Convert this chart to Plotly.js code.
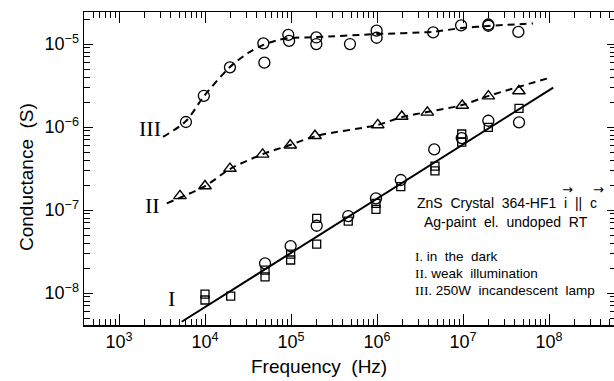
<!DOCTYPE html>
<html>
<head>
<meta charset="utf-8">
<script src="https://cdn.plot.ly/plotly-3.0.1.min.js"></script>
<style>
html,body{margin:0;padding:0;background:#fff;overflow:hidden;}
#chart{width:620px;height:381px;}
</style>
</head>
<body>
<div id="chart"></div>
<script>
// Series III: 250W incandescent lamp (circles)
const freqIII = [6.0e3, 9.7e3, 1.95e4, 4.77e4, 4.9e4, 9.3e4, 9.5e4, 1.97e5, 1.97e5, 4.85e5, 9.9e5, 9.9e5, 4.5e6, 9.5e6, 1.97e7, 1.97e7, 4.4e7];
const condIII = [1.15e-6, 2.38e-6, 5.24e-6, 1.02e-5, 5.96e-6, 1.29e-5, 1.09e-5, 1.2e-5, 1.0e-5, 1.0e-5, 1.45e-5, 1.19e-5, 1.38e-5, 1.68e-5, 1.72e-5, 1.66e-5, 1.40e-5];
const fitFreqIII = [3.25e3, 6.01e3, 9.73e3, 1.95e4, 3.16e4, 4.72e4, 7.06e4, 9.73e4, 1.95e5, 1.0e6, 4.48e6, 9.73e6, 1.95e7, 6.52e7];
const fitCondIII = [7.59e-7, 1.18e-6, 2.36e-6, 5.28e-6, 7.8e-6, 9.72e-6, 1.117e-5, 1.18e-5, 1.213e-5, 1.318e-5, 1.406e-5, 1.56e-5, 1.648e-5, 1.774e-5];

// Series II: weak illumination (triangles)
const freqII = [5.12e3, 1.0e4, 1.95e4, 4.68e4, 9.8e4, 1.9e5, 1.02e6, 1.94e6, 3.85e6, 9.8e6, 1.97e7, 4.47e7];
const condII = [1.48e-7, 1.95e-7, 3.16e-7, 4.68e-7, 6.03e-7, 7.85e-7, 1.06e-6, 1.34e-6, 1.50e-6, 1.82e-6, 2.36e-6, 2.72e-6];
const fitFreqII = [3.59e3, 1.0e4, 1.95e4, 4.72e4, 9.73e4, 1.95e5, 1.0e6, 1.95e6, 3.81e6, 9.73e6, 1.95e7, 1.03e8];
const fitCondII = [1.205e-7, 1.945e-7, 3.12e-7, 4.73e-7, 6.07e-7, 7.8e-7, 1.057e-6, 1.318e-6, 1.517e-6, 1.84e-6, 2.36e-6, 3.93e-6];

// Series I: in the dark (squares and circles)
const freqISq = [1.0e4, 1.0e4, 1.99e4, 4.99e4, 4.99e4, 9.9e4, 9.9e4, 1.99e5, 1.99e5, 4.63e5, 9.73e5, 9.73e5, 1.89e6, 4.72e6, 4.72e6, 9.66e6, 9.66e6, 1.97e7, 4.48e7];
const condISq = [9.73e-9, 8.24e-9, 9.2e-9, 1.89e-8, 1.57e-8, 2.95e-8, 2.50e-8, 7.94e-8, 3.89e-8, 7.36e-8, 1.2e-7, 1.02e-7, 1.91e-7, 3.39e-7, 2.97e-7, 8.24e-7, 6.59e-7, 9.9e-7, 1.68e-6];
const freqICi = [4.99e4, 9.9e4, 1.99e5, 4.63e5, 9.73e5, 1.89e6, 4.63e6, 9.66e6, 1.97e7, 4.48e7];
const condICi = [2.28e-8, 3.68e-8, 6.47e-8, 8.47e-8, 1.38e-7, 2.30e-7, 5.38e-7, 7.36e-7, 1.19e-6, 1.14e-6];
const fitFreqI = [5.36e3, 1.12e8];
const fitCondI = [4.51e-9, 2.98e-6];

// Axis ticks
const xTickVals = [1e3, 1e4, 1e5, 1e6, 1e7, 1e8];
const xTickText = ["10<sup>3</sup>", "10<sup>4</sup>", "10<sup>5</sup>", "10<sup>6</sup>", "10<sup>7</sup>", "10<sup>8</sup>"];
const yTickVals = [1e-8, 1e-7, 1e-6, 1e-5];
const yTickText = ["10<sup>\u22128</sup>", "10<sup>\u22127</sup>", "10<sup>\u22126</sup>", "10<sup>\u22125</sup>"];

const xTitle = "Frequency  (Hz)";
const yTitle = "Conductance  (S)";
const curveLabels = ["III", "II", "I"];
const infoLines = ["ZnS  Crystal  364-HF1  i  ||  c", "Ag-paint  el.  undoped  RT"];
const legendNums = ["I.", "II.", "III."];
const legendTexts = ["in  the  dark", "weak  illumination", "250W  incandescent  lamp"];

const black = "#000";
const openCircle = {symbol: "circle-open", size: 11, color: black, line: {width: 1.3, color: black}};

const traces = [
  {x: fitFreqIII, y: fitCondIII, mode: "lines", line: {color: black, width: 2, dash: "7px,5px", shape: "spline", smoothing: 0.8}},
  {x: fitFreqII, y: fitCondII, mode: "lines", line: {color: black, width: 2, dash: "7px,5px", shape: "spline", smoothing: 0.8}},
  {x: fitFreqI, y: fitCondI, mode: "lines", line: {color: black, width: 2}},
  {x: freqIII, y: condIII, mode: "markers", marker: openCircle},
  {x: freqII, y: condII, mode: "markers", marker: {symbol: "triangle-up-open", size: 11, color: black, line: {width: 1.4, color: black}}},
  {x: freqISq, y: condISq, mode: "markers", marker: {symbol: "square-open", size: 8, color: black, line: {width: 1.3, color: black}}},
  {x: freqICi, y: condICi, mode: "markers", marker: openCircle}
];

function minorVals(lo, hi) {
  const v = [];
  for (let d = lo; d <= hi; d++) for (let k = 2; k <= 9; k++) v.push(k * Math.pow(10, d));
  return v;
}

const sans = "Liberation Sans, Arial, sans-serif";
const serif = "Liberation Serif, Times New Roman, serif";

const M = {l: 84, r: 4, t: 12, b: 56};
const FW = 620, FH = 381;
const PW = FW - M.l - M.r, PH = FH - M.t - M.b;
// pixel position in the figure -> plot-area paper coordinates
const px = p => (p - M.l) / PW;
const py = p => (FH - M.b - p) / PH;

const annotations = [
  {x: 3.360, y: -6.012, text: curveLabels[0]},
  {x: 3.384, y: -6.940, text: curveLabels[1]},
  {x: 3.616, y: -8.06, text: curveLabels[2]}
].map(a => Object.assign({xref: "x", yref: "y", showarrow: false, xanchor: "center", yanchor: "middle",
  font: {family: serif, size: 22, color: black}}, a));

annotations.push({x: 7.517, y: -6.916, xref: "x", yref: "y", text: infoLines[0], showarrow: false, font: {family: sans, size: 14, color: black}});
annotations.push({x: 7.5, y: -7.145, xref: "x", yref: "y", text: infoLines[1], showarrow: false, font: {family: sans, size: 14, color: black}});
// vector arrows over i and c
annotations.push({x: px(567), y: py(189), xref: "paper", yref: "paper", xanchor: "center", yanchor: "middle", text: "\u2192", showarrow: false, font: {family: "DejaVu Sans", size: 13, color: black}});
annotations.push({x: px(598), y: py(189), xref: "paper", yref: "paper", xanchor: "center", yanchor: "middle", text: "\u2192", showarrow: false, font: {family: "DejaVu Sans", size: 13, color: black}});
const legY = [-7.554, -7.759, -7.964];
for (let i = 0; i < 3; i++) {
  annotations.push({x: 6.419, y: legY[i], xref: "x", yref: "y", xanchor: "left", yanchor: "middle", showarrow: false,
    text: '<span style="font-family:Liberation Serif">' + legendNums[i] + '</span> ' + legendTexts[i],
    font: {family: sans, size: 13.5, color: black}});
}
// axis titles (placed to match the reference's positions)
annotations.push({x: px(319), y: py(366), xref: "paper", yref: "paper", xanchor: "center", yanchor: "middle",
  text: xTitle, showarrow: false, font: {family: sans, size: 19, color: black}});
annotations.push({x: px(26), y: py(177), xref: "paper", yref: "paper", xanchor: "center", yanchor: "middle",
  text: yTitle, showarrow: false, textangle: -90, font: {family: sans, size: 19, color: black}});

const layout = {
  width: FW, height: FH,
  margin: M,
  paper_bgcolor: "#fff", plot_bgcolor: "#fff",
  showlegend: false,
  font: {family: sans, color: black},
  xaxis: {
    type: "log", range: [2.593, 8.779],
    tickmode: "array", tickvals: xTickVals, ticktext: xTickText, tickangle: 0,
    ticks: "inside", ticklen: 11, tickwidth: 1, tickcolor: black,
    minor: {tickmode: "array", tickvals: minorVals(2, 8), ticks: "inside", ticklen: 6, tickwidth: 1, tickcolor: black},
    showline: true, linecolor: black, linewidth: 1.5, mirror: "ticks",
    showgrid: false, zeroline: false,
    tickfont: {family: sans, size: 18, color: black}
  },
  yaxis: {
    type: "log", range: [-8.385, -4.614],
    tickmode: "array", tickvals: yTickVals, ticktext: yTickText,
    ticks: "inside", ticklen: 9, tickwidth: 1, tickcolor: black,
    minor: {tickmode: "array", tickvals: minorVals(-9, -5), ticks: "inside", ticklen: 6, tickwidth: 1, tickcolor: black},
    showline: true, linecolor: black, linewidth: 1.5, mirror: "ticks",
    showgrid: false, zeroline: false,
    tickfont: {family: sans, size: 18, color: black}
  },
  annotations: annotations
};

Plotly.newPlot("chart", traces, layout, {staticPlot: true, displayModeBar: false});
</script>
</body>
</html>
